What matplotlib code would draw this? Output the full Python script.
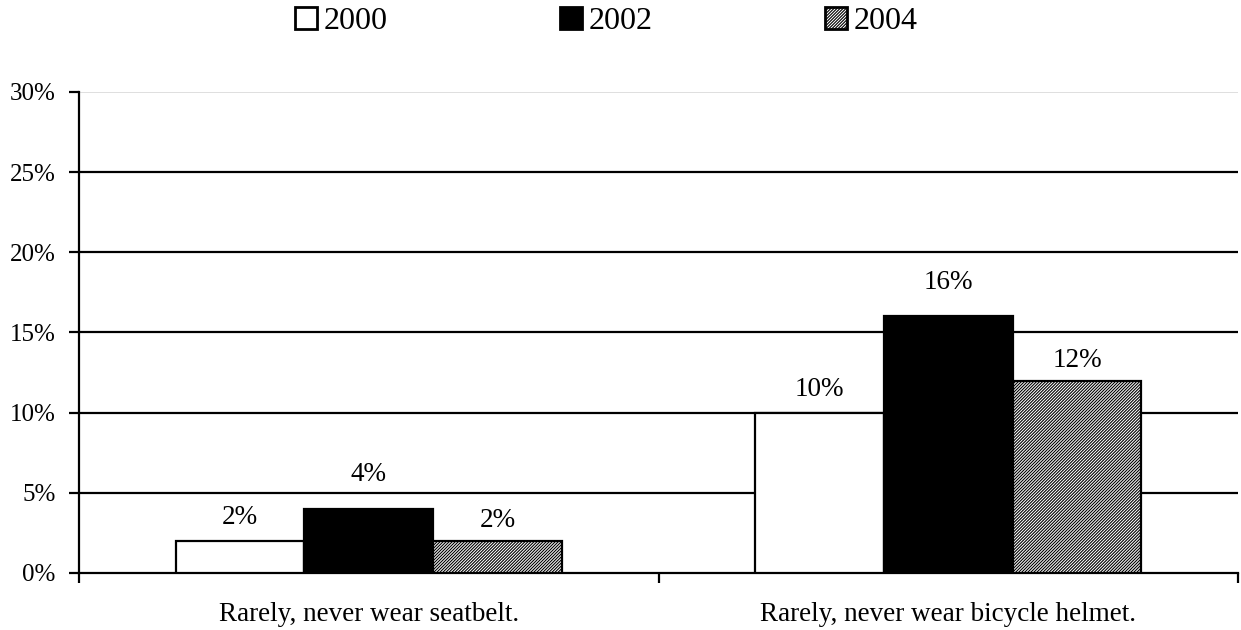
import matplotlib
matplotlib.use("Agg")
import matplotlib.pyplot as plt
import numpy as np

plt.rcParams['font.family'] = ['Liberation Serif', 'DejaVu Serif']
plt.rcParams['hatch.linewidth'] = 0.8

categories = ["Rarely, never wear seatbelt.", "Rarely, never wear bicycle helmet."]
years = ["2000", "2002", "2004"]
values = {
    "2000": [2, 10],
    "2002": [4, 16],
    "2004": [2, 12],
}
yticks = [0, 5, 10, 15, 20, 25, 30]

fig = plt.figure(figsize=(12.41, 6.3), dpi=100)
ax = fig.add_axes([0.0637, 0.0905, 0.934, 0.7635])

x = np.arange(len(categories))
w = 0.222
styles = {
    "2000": dict(facecolor="white", edgecolor="black", hatch=None),
    "2002": dict(facecolor="black", edgecolor="black", hatch=None),
    "2004": dict(facecolor="white", edgecolor="black", hatch="/" * 11),
}
label_offset = {"2000": 12, "2002": 20, "2004": 10}
handles = []
for i, yr in enumerate(years):
    b = ax.bar(x + (i - 1) * w, values[yr], width=w, linewidth=1.6, zorder=3, label=yr, **styles[yr])
    handles.append(b)
    for xi, v in zip(x + (i - 1) * w, values[yr]):
        ax.annotate(f"{v}%", (xi, v), xytext=(0, label_offset[yr]), textcoords="offset points",
                    ha="center", va="baseline", fontsize=19.5)

ax.set_xlim(-0.5, 1.5)
ax.set_ylim(0, 30)
ax.set_yticks(yticks)
ax.set_yticklabels([f"{t}%" for t in yticks], fontsize=18)
for t in yticks[1:-1]:
    ax.axhline(t, color="black", linewidth=1.6, zorder=1)
ax.axhline(30, color="#d9d9d9", linewidth=1.2, zorder=1)

ax.set_xticks([-0.5, 0.5, 1.5])
ax.set_xticklabels([])
ax.set_xticks(x, minor=True)
ax.set_xticklabels(categories, minor=True, fontsize=19.5)
ax.tick_params(axis="x", which="minor", length=0, pad=21)
ax.tick_params(axis="x", which="major", length=7, width=1.6, direction="out")
ax.tick_params(axis="y", length=7, width=1.6, direction="out", pad=10)

for s in ["top", "right"]:
    ax.spines[s].set_visible(False)
for s in ["left", "bottom"]:
    ax.spines[s].set_linewidth(1.6)

leg = fig.legend(handles=handles, labels=years, loc="center", bbox_to_anchor=(0.4887, 0.966),
                 ncol=3, frameon=False, fontsize=23, handlelength=0.69, handleheight=0.69,
                 handletextpad=0.2, columnspacing=5.4, borderpad=0, borderaxespad=0)
for h in leg.legend_handles:
    h.set_linewidth(2)

fig.savefig("out.png", dpi=100)
